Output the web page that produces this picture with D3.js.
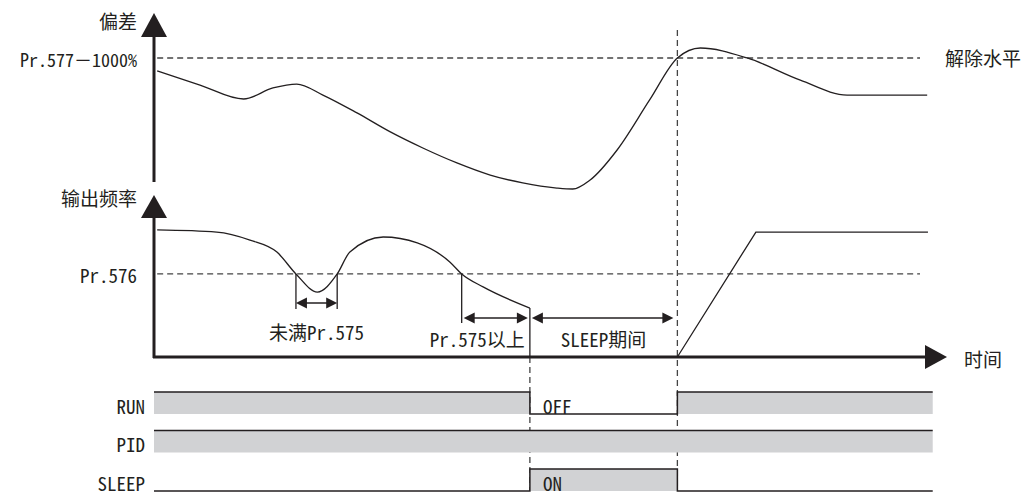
<!DOCTYPE html>
<html lang="zh">
<head>
<meta charset="UTF-8">
<script src="https://d3js.org/d3.v7.min.js"></script>
<style>
  body { margin: 0; padding: 0; background: #fff; }
  text { font-family: "Noto Sans Mono CJK SC", "Noto Sans CJK SC", sans-serif; font-size: 19px; fill: #231f20; }
</style>
</head>
<body>
<svg id="chart" width="1026" height="494"></svg>
<script>
// time runs 0..100, events
const tSleep = 47.4, tWake = 66.0, tEnd = 98.2;

// deviation curve (upper panel)
const devT = [0.4, 5.8, 11.3, 15.0, 18.0, 21.3, 25.6, 29.8, 33.9, 38.2, 42.4, 46.5, 50.8, 52.8, 55.0, 58.4, 62.5, 66.0, 68.9, 74.8, 81.5, 87.4, 97.5];
const devV = [72.6, 64.0, 55.5, 62.2, 64.6, 57.9, 47.0, 35.4, 25.6, 16.5, 9.1, 4.3, 1.2, 0.6, 6.1, 24.4, 54.9, 80.5, 86.6, 80.5, 67.0, 57.9, 57.9];
const devLevel = 80.5;   // Pr.577-1000%

// output frequency (lower panel)
const freqT = [0.4, 7.9, 12.1, 15.5, 17.9, 20.6, 23.1, 24.7, 28.9, 33.2, 37.3, 38.8, 41.5, 47.4];
const freqV = [79.4, 78.1, 73.1, 65.6, 51.9, 40.6, 51.9, 65.6, 75.0, 71.3, 59.4, 51.9, 43.8, 30.6];
const wakeT = [tWake, 75.9, 97.6];
const wakeV = [0, 78.1, 78.1];
const freqLevel = 51.9;  // Pr.576

// brackets under frequency curve
const bracketLabels = ["未满Pr.575", "Pr.575以上", "SLEEP期间"];
const bracketStart = [17.9, 38.8, tSleep];
const bracketEnd = [23.1, tSleep, tWake];

// signals
const signalNames = ["RUN", "PID", "SLEEP"];
const stepT = [0, tSleep, tWake, tEnd];
const runLevel = [1, 0, 1, 1];
const pidLevel = [1, 1, 1, 1];
const sleepLevel = [0, 1, 0, 0];
const signalLevels = [runLevel, pidLevel, sleepLevel];
const stateText = [["OFF", 0, 1], ["ON", 2, 1]]; // label, row, step index

const ink = "#231f20", grey = "#d1d2d4";
const svg = d3.select("#chart");

const x = d3.scaleLinear().domain([0, 100]).range([154, 947]);
const yDev = d3.scaleLinear().domain([0, 100]).range([190, 26]);
const yFreq = d3.scaleLinear().domain([0, 100]).range([357, 197]);
const yRow = d3.scalePoint().domain(signalNames).range([392, 469]);
const rowH = 22;

function tri(tipX, tipY, dir, len, half) {
  let p;
  if (dir === "up") p = [[tipX, tipY], [tipX - half, tipY + len], [tipX + half, tipY + len]];
  else if (dir === "right") p = [[tipX, tipY], [tipX - len, tipY - half], [tipX - len, tipY + half]];
  else p = [[tipX, tipY], [tipX + len, tipY - half], [tipX + len, tipY + half]];
  svg.append("path").attr("d", "M" + p.join("L") + "Z").attr("fill", ink);
}

function dashed(x1, y1, x2, y2) {
  svg.append("line").attr("x1", x1).attr("y1", y1).attr("x2", x2).attr("y2", y2)
    .attr("stroke", "#444").attr("stroke-width", 1.3).attr("stroke-dasharray", "6,4");
}

function solid(x1, y1, x2, y2, w) {
  svg.append("line").attr("x1", x1).attr("y1", y1).attr("x2", x2).attr("y2", y2)
    .attr("stroke", ink).attr("stroke-width", w || 1.3);
}

// reference dashed lines
dashed(x(0.4), yDev(devLevel), x(96.6), yDev(devLevel));
dashed(x(0.4), yFreq(freqLevel), x(96.6), yFreq(freqLevel));
dashed(x(tWake), 30, x(tWake), 491);
dashed(x(tSleep), yFreq(0), x(tSleep), 491);

// axes
solid(154, 182, 154, 34, 3);
tri(154, 13, "up", 24, 13);
solid(154, 358, 154, 215, 3);
tri(154, 195, "up", 23, 13);
solid(153, 357, 927, 357, 3);
tri(947, 357, "right", 22, 12);

// curves
const devData = devT.map((t, i) => [t, devV[i]]);
svg.append("path")
  .attr("d", d3.line().x(d => x(d[0])).y(d => yDev(d[1])).curve(d3.curveMonotoneX)(devData))
  .attr("fill", "none").attr("stroke", ink).attr("stroke-width", 1.3);

const freqData = freqT.map((t, i) => [t, freqV[i]]);
svg.append("path")
  .attr("d", d3.line().x(d => x(d[0])).y(d => yFreq(d[1])).curve(d3.curveMonotoneX)(freqData))
  .attr("fill", "none").attr("stroke", ink).attr("stroke-width", 1.3);
// drop to zero at sleep start
solid(x(tSleep), yFreq(freqV[freqV.length - 1]), x(tSleep), yFreq(0));

svg.append("path")
  .attr("d", d3.line().x(d => x(d)).y((d, i) => yFreq(wakeV[i]))(wakeT))
  .attr("fill", "none").attr("stroke", ink).attr("stroke-width", 1.3);

// brackets
const arrowY = [303, 318, 318];
const tickBottom = [309, 323, null];
bracketLabels.forEach((lab, i) => {
  const x0 = x(bracketStart[i]), x1 = x(bracketEnd[i]);
  const ay = arrowY[i];
  if (tickBottom[i] !== null) {
    solid(x0, yFreq(freqLevel), x0, tickBottom[i]);
    if (i === 0) solid(x1, yFreq(freqLevel), x1, tickBottom[i]);
  }
  const a0 = x0 + (i === 0 ? 0 : 2), a1 = x1 - (i === 0 ? 0 : i === 1 ? 2 : 4);
  solid(a0 + 8, ay, a1 - 8, ay, 1.5);
  tri(a0, ay, "left", 11, 5.5);
  tri(a1, ay, "right", 11, 5.5);
  const t = svg.append("text").attr("dominant-baseline", "central").text(lab);
  if (i === 1) t.attr("x", x1 - 5).attr("y", 338).attr("text-anchor", "end");
  else t.attr("x", (x0 + x1) / 2).attr("y", i === 0 ? 331 : 338).attr("text-anchor", "middle");
});

// signals
signalNames.forEach((name, r) => {
  const top = yRow(name), bot = top + rowH;
  const pts = stepT.map((t, i) => [t, signalLevels[r][i]]);
  svg.append("path")
    .attr("d", d3.area().x(d => x(d[0])).y0(bot).y1(d => d[1] ? top : bot).curve(d3.curveStepAfter)(pts))
    .attr("fill", grey);
  svg.append("path")
    .attr("d", d3.line().x(d => x(d[0])).y(d => d[1] ? top : bot).curve(d3.curveStepAfter)(pts))
    .attr("fill", "none").attr("stroke", ink).attr("stroke-width", 1.5);
  svg.append("text").attr("x", 145).attr("y", top + rowH / 2 + 2)
    .attr("text-anchor", "end").attr("dominant-baseline", "central").text(name);
});
stateText.forEach(([lab, r, k]) => {
  svg.append("text").attr("x", x(stepT[k]) + 13).attr("y", yRow(signalNames[r]) + rowH / 2 + 2)
    .attr("dominant-baseline", "central").text(lab);
});

// axis labels
const leftLabels = [["偏差", 20], ["Pr.577－1000%", yDev(devLevel) + 1], ["输出频率", 197], ["Pr.576", yFreq(freqLevel) + 1]];
leftLabels.forEach(([t, y]) => {
  svg.append("text").attr("x", 137).attr("y", y).attr("text-anchor", "end")
    .attr("dominant-baseline", "central")
    .style("font-size", t.length > 10 ? "18px" : null).text(t);
});
svg.append("text").attr("x", 945).attr("y", yDev(devLevel)).attr("dominant-baseline", "central").text("解除水平");
svg.append("text").attr("x", 964).attr("y", 358).attr("dominant-baseline", "central").text("时间");
</script>
</body>
</html>
